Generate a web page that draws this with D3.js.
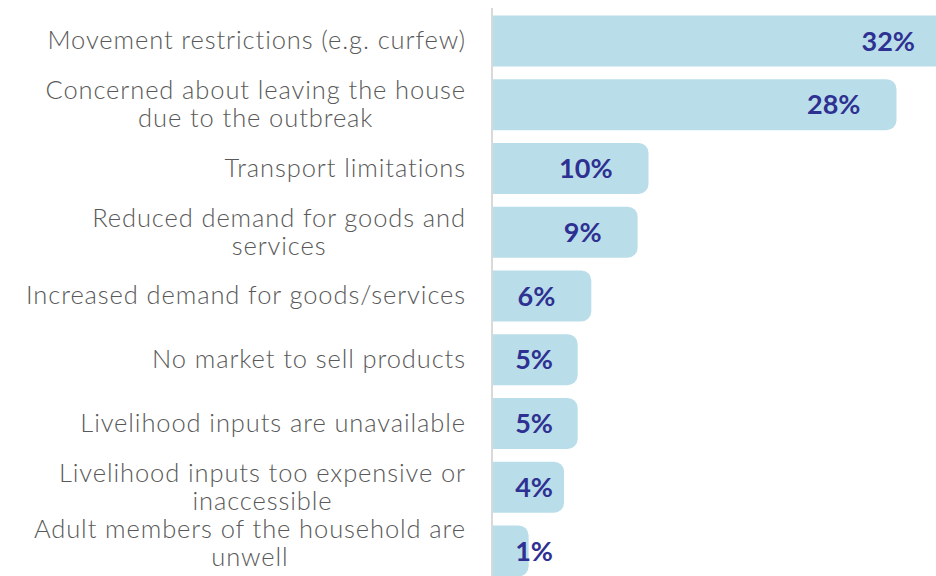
<!DOCTYPE html>
<html><head><meta charset="utf-8">
<script src="https://cdn.jsdelivr.net/npm/d3@7"></script>
<style>html,body{margin:0;padding:0;background:#fff;}svg{display:block;}</style>
</head><body>
<svg id="chart" width="936" height="576"></svg>
<script>
const categories = [
  ["Movement restrictions (e.g. curfew)"],
  ["Concerned about leaving the house", "due to the outbreak"],
  ["Transport limitations"],
  ["Reduced demand for goods and", "services"],
  ["Increased demand for goods/services"],
  ["No market to sell products"],
  ["Livelihood inputs are unavailable"],
  ["Livelihood inputs too expensive or", "inaccessible"],
  ["Adult members of the household are", "unwell"]
];
const values = [32, 28, 9.8, 9, 5.6, 4.6, 4.6, 3.6, 1];

const W = 936, H = 576;
const axisX = 492;
const barX = 493;
const capExtra = 22;     // rounded end extends past value
const svg = d3.select("#chart");

const y = d3.scaleBand().domain(d3.range(categories.length))
  .range([9, 9 + 63.75 * categories.length]).paddingInner(0.2).paddingOuter(0.1);
const x = d3.scaleLinear().domain([0, 32]).range([0, 436]);

const r = 10;
function barPath(x0, y0, w, h) {
  return `M${x0},${y0} H${x0 + w - r} A${r},${r} 0 0 1 ${x0 + w},${y0 + r} V${y0 + h - r} A${r},${r} 0 0 1 ${x0 + w - r},${y0 + h} H${x0} Z`;
}

svg.append("defs").append("clipPath").attr("id", "clip")
  .append("rect").attr("x", 0).attr("y", 0).attr("width", W).attr("height", H);

const g = svg.append("g").attr("clip-path", "url(#clip)");

g.selectAll("path.bar").data(values).join("path")
  .attr("class", "bar")
  .attr("fill", "#badee9")
  .attr("d", (v, i) => barPath(barX, y(i), x(v) + capExtra, y.bandwidth()));

svg.append("line").attr("x1", axisX).attr("x2", axisX).attr("y1", 8).attr("y2", H)
  .attr("stroke", "#d9d9d9").attr("stroke-width", 2);

// value labels
svg.selectAll("text.val").data(values).join("text")
  .attr("class", "val")
  .attr("x", v => Math.max(barX + x(v) + capExtra - 36, 553))
  .attr("y", (v, i) => y(i) + y.bandwidth() / 2)
  .attr("dy", "0.36em")
  .attr("text-anchor", "end")
  .attr("font-family", "Lato, sans-serif")
  .attr("font-weight", "bold")
  .attr("font-size", 27)
  .attr("fill", "#2e3192")
  .text(v => Math.round(v) + "%");

// category labels: block right-aligned, lines centred within the block
const lineH = 28;
const labelRight = 466;
svg.selectAll("g.cat").data(categories).join("g")
  .attr("class", "cat")
  .each(function (lines, i) {
    const gg = d3.select(this);
    const cy = y(i) + y.bandwidth() / 2;
    let top = cy - (lines.length - 1) * lineH / 2;
    const maxLast = H - 18;
    const last = top + (lines.length - 1) * lineH;
    if (last > maxLast) top -= (last - maxLast);
    const t = gg.selectAll("text").data(lines).join("text")
      .attr("font-family", "Lato, sans-serif")
      .attr("font-size", 25.5)
      .attr("font-weight", 300)
      .attr("letter-spacing", "0.9px")
      .attr("fill", "#595959")
      .attr("text-anchor", "middle")
      .attr("y", (l, j) => top + j * lineH)
      .attr("dy", "0.33em")
      .text(l => l);
    let maxW = 0;
    t.each(function () { maxW = Math.max(maxW, this.getComputedTextLength()); });
    t.attr("x", labelRight - maxW / 2);
  });
</script>
</body></html>
